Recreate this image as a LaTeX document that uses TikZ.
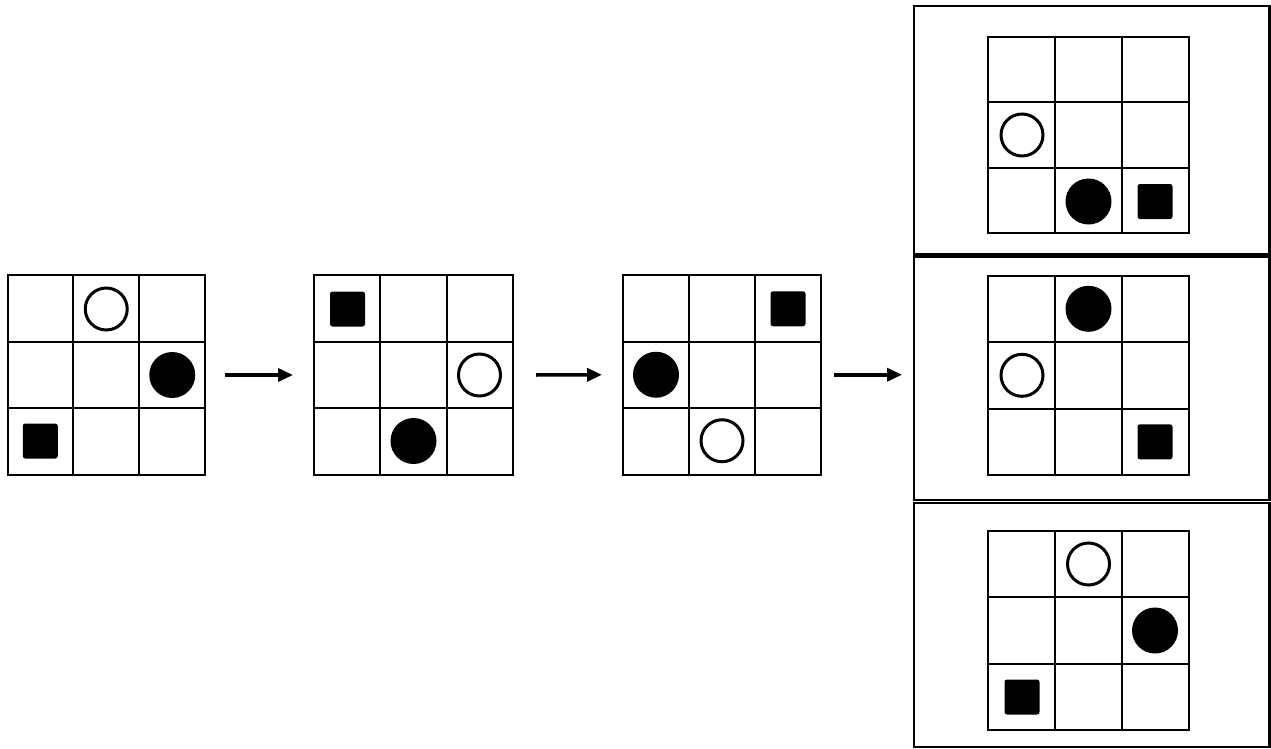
\documentclass[tikz,border=0pt]{standalone}
\usetikzlibrary{arrows.meta,calc}
\tikzset{
  board/.style={draw, line width=2pt, inner sep=0pt, outer sep=0pt},
  frame/.style={draw, line width=2.4pt, inner sep=0pt, outer sep=0pt},
  gline/.style={line width=2pt},
  ring/.style={draw, line width=3pt},
  flow/.style={line width=3.6pt, yshift=-2pt, -{Triangle[length=15pt,width=13pt]}},
}
% grid lines inside a board node
\newcommand\gridlines[1]{%
  \draw[gline] ($(#1.north west)!1/3!(#1.north east)$) -- ($(#1.south west)!1/3!(#1.south east)$);
  \draw[gline] ($(#1.north west)!2/3!(#1.north east)$) -- ($(#1.south west)!2/3!(#1.south east)$);
  \draw[gline] ($(#1.north west)!1/3!(#1.south west)$) -- ($(#1.north east)!1/3!(#1.south east)$);
  \draw[gline] ($(#1.north west)!2/3!(#1.south west)$) -- ($(#1.north east)!2/3!(#1.south east)$);
}
% pieces: board, column, row, cell size
\newcommand\fcirc[4]{\fill ($(#1.center)+({(#2-2)*#4},{(#3-2)*#4})$) circle[radius=23pt];}
\newcommand\ocirc[4]{\draw[ring] ($(#1.center)+({(#2-2)*#4},{(#3-2)*#4})$) circle[radius=21pt];}
\newcommand\sqr[4]{\fill[rounded corners=2.5pt] ($(#1.center)+({(#2-2)*#4},{(#3-2)*#4})$) +(-17.5pt,-17.5pt) rectangle +(17.5pt,17.5pt);}
\begin{document}
\begin{tikzpicture}[x=1pt,y=-1pt]
\useasboundingbox (0,0) rectangle (1271,749);
% left boards
\node[board, minimum width=197.5pt, minimum height=200pt] (g1) at (106.25,375) {};
\node[board, minimum width=199pt, minimum height=200pt] (g2) at (413.5,375) {};
\node[board, minimum width=198pt, minimum height=199.5pt] (g3) at (722,374.75) {};
\gridlines{g1}\gridlines{g2}\gridlines{g3}
\ocirc{g1}{2}{1}{66}\fcirc{g1}{3}{2}{66}\sqr{g1}{1}{3}{66}
\sqr{g2}{1}{1}{66}\ocirc{g2}{3}{2}{66}\fcirc{g2}{2}{3}{66}
\sqr{g3}{3}{1}{66}\fcirc{g3}{1}{2}{66}\ocirc{g3}{2}{3}{66}
% right frames
\node[frame, minimum width=355.5pt, minimum height=248.5pt] (f1) at (1091.75,130.25) {};
\node[frame, minimum width=355.5pt, minimum height=243pt] (f2) at (1091.75,378.5) {};
\node[frame, minimum width=355.5pt, minimum height=244pt] (f3) at (1091.75,625) {};
% right boards
\node[board, minimum width=200.4pt, minimum height=196.6pt] (b1) at (1088.5,135) {};
\node[board, minimum width=200.4pt, minimum height=199.3pt] (b2) at (1088.5,375.3) {};
\node[board, minimum width=200.4pt, minimum height=199pt] (b3) at (1088.5,630.5) {};
\gridlines{b1}\gridlines{b2}\gridlines{b3}
\ocirc{b1}{1}{2}{66.5}\fcirc{b1}{2}{3}{66.5}\sqr{b1}{3}{3}{66.5}
\fcirc{b2}{2}{1}{66.5}\ocirc{b2}{1}{2}{66.5}\sqr{b2}{3}{3}{66.5}
\ocirc{b3}{2}{1}{66.5}\fcirc{b3}{3}{2}{66.5}\sqr{b3}{1}{3}{66.5}
% arrows
\draw[flow, shorten <=20pt, shorten >=21pt] (g1.east) -- (g2.west);
\draw[flow, shorten <=23pt, shorten >=21pt] (g2.east) -- (g3.west);
\draw[flow, shorten <=13pt, shorten >=12pt] (g3.east) -- (f2.west |- g3.east);
\end{tikzpicture}
\end{document}
